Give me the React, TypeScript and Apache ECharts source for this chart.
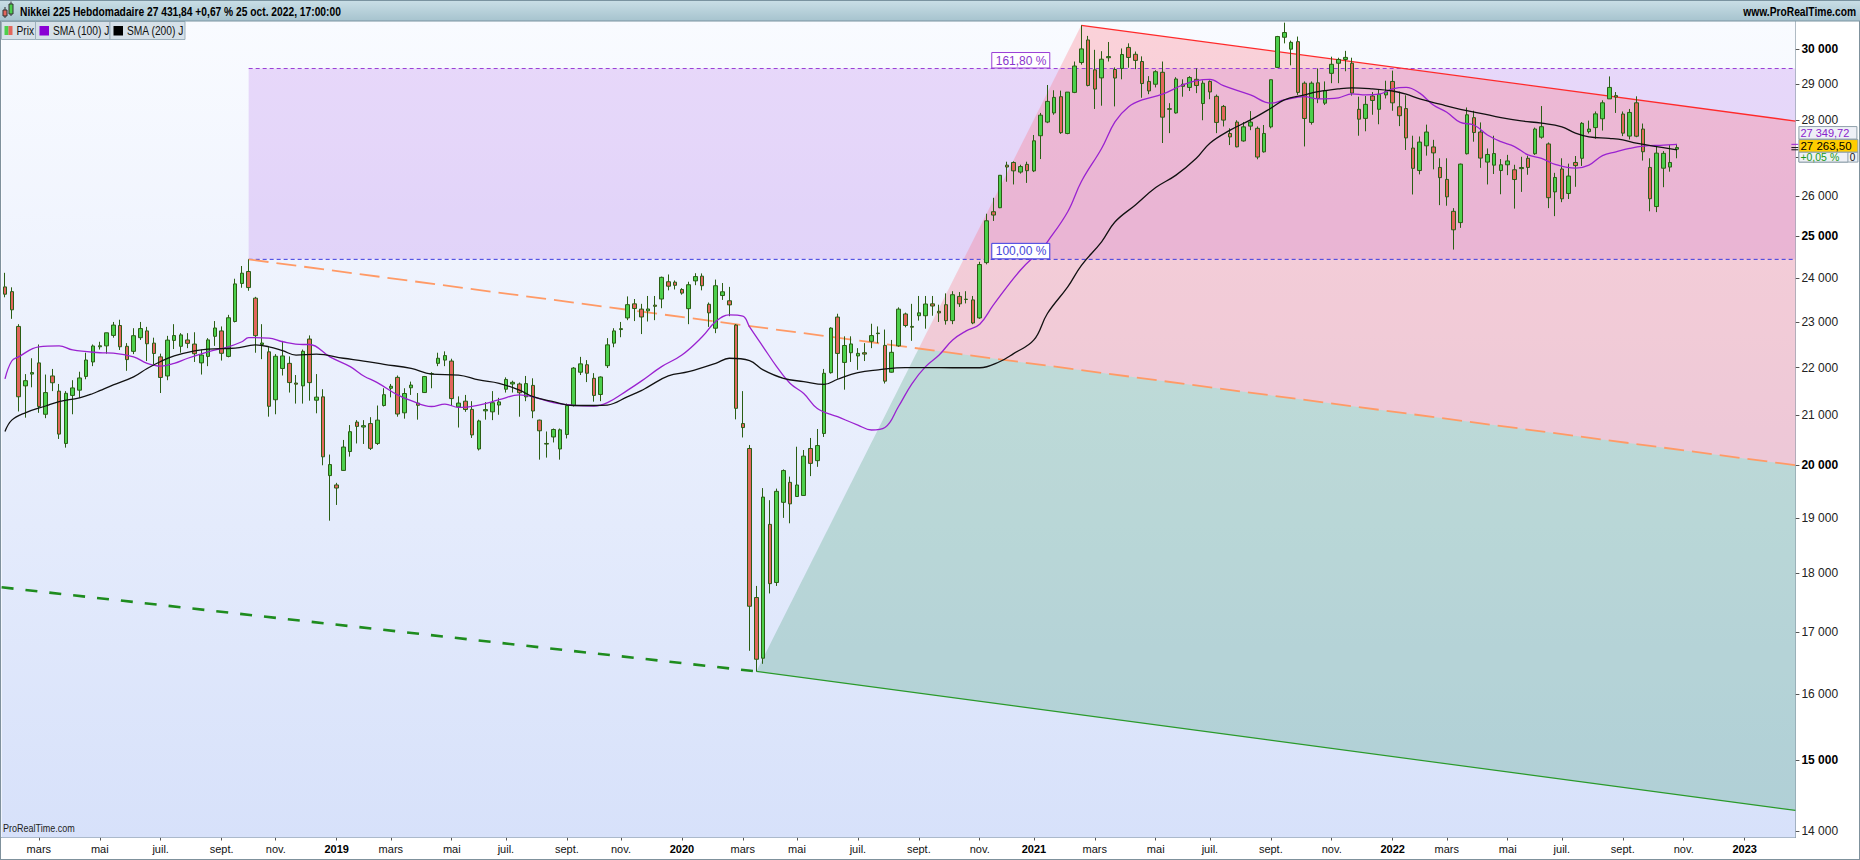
import React, { useEffect, useRef } from "react";
import * as echarts from "echarts";

// ---------------- data ----------------
const firstWeek = "2018-01-22";
const skippedWeeks = ["2019-04-29"]; // Golden Week 2019: no trading
const slotCount = 265;

const opens = [
  23800,23690,22900,21610,21860,22100,21020,21820,21500,20430,
  21410,21520,21810,22120,22450,22470,22700,22920,22460,22350,
  22650,22800,22530,22230,21820,22590,22460,22600,22510,22100,
  22240,22680,22800,22240,23010,23880,24160,23540,22500,22340,
  21320,21980,22090,21670,21610,22620,21310,21380,19800,19620,
  19900,20270,20860,20760,20830,20430,21200,21560,21790,21050,
  21570,21250,21470,21870,22090,22160,22140,21170,21290,21120,
  20320,21090,21070,21210,21540,21650,21650,21380,21620,20900,
  20430,20560,20320,20610,21200,21900,22060,21770,21430,22040,
  22530,22830,23090,23410,23290,23250,23380,23520,23920,23910,
  23740,23300,23940,24050,23400,22860,23600,23480,22930,20830,
  20330,17580,16570,18880,17840,19290,19670,19400,19420,20330,
  20090,20630,21890,23110,22110,22320,22250,22320,22570,22740,
  22480,21900,22470,23180,22900,23140,23140,23410,23240,23390,
  23030,23580,23510,23500,23090,24370,25610,25710,26800,26870,
  26620,26820,26650,27580,27950,28200,28650,27640,28770,29620,
  30280,29410,29180,29760,29420,29450,30060,29860,29650,29080,
  29000,29340,28300,28200,29000,28910,29140,28460,29080,28660,
  28380,27640,27950,27440,27840,27780,27150,27820,29480,30360,
  30010,30230,29030,27940,29040,28470,29310,29600,29710,29600,
  28300,28050,28670,28300,28700,29080,28370,28320,27250,26660,
  27310,27280,26740,26430,25620,25340,27100,28070,27680,26880,
  26800,26660,26810,26680,26710,26980,27100,27540,27360,26110,
  26700,26070,26870,26980,27690,27800,28040,28590,28680,28170,
  27570,28480,27760,26740,25740,26720,26750,27220,
];
const highs = [
  24129,23790,22950,21860,22200,22500,21850,21970,21650,21500,
  21730,21910,22320,22500,22560,22760,23000,23050,22530,22860,
  23000,22890,22650,22300,22690,22950,22750,22750,22770,22390,
  22640,23020,22900,23160,23990,24290,24448,23570,22950,22440,
  22290,22580,22240,21840,22390,22700,21860,21540,20210,19660,
  20500,20800,20900,20900,20960,21200,21560,21650,21830,21560,
  21700,21460,21820,21900,22320,22350,22190,21390,21420,21290,
  20910,21270,21500,21360,21790,21720,21680,21820,21770,20910,
  20670,20730,20730,21240,22010,22230,22160,21880,21810,22640,
  22860,23000,23580,23520,23410,23590,23590,24040,24090,23950,
  23770,23920,24120,24115,23440,23970,23890,23800,22950,21500,
  20400,17780,19560,19330,19550,19920,19780,20365,20300,20540,
  20720,21970,22880,23185,22680,22680,22420,22530,22960,22900,
  22830,22600,23330,23210,23410,23590,23590,23590,23390,23650,
  23700,23680,23700,23590,24390,25560,25960,26540,26890,26900,
  26810,26890,27600,28200,28979,28830,28820,28780,29650,30714,
  30400,29990,29950,30220,29480,30030,30180,29940,29800,29230,
  29400,29650,28470,29200,29140,29230,29450,29110,29110,28710,
  28420,27780,28000,27950,28250,27830,27870,29130,30400,30795,
  30260,30380,29080,29080,29450,29080,29790,29760,29960,29760,
  28650,28670,28780,28850,29100,29388,28790,28690,27580,27560,
  27880,27470,26980,26980,25700,26840,28350,28260,27940,27240,
  27580,26960,27070,26810,27020,27050,27800,28390,27400,26600,
  26980,26840,27040,27950,27990,28240,28550,29222,28780,28240,
  28310,28660,27910,26980,27290,27170,27330,27360,
];
const lows = [
  23560,23070,21078,20950,21580,21050,20940,21500,20520,20347,
  21020,21360,21750,22030,22390,22300,22650,22380,21930,22290,
  22600,22140,22070,21460,21730,22400,22320,22420,22120,21850,
  22030,22470,22150,22220,22990,23780,23710,22320,22180,20971,
  21020,21830,21470,21240,21240,21300,21040,20000,18948,19241,
  19890,20170,20430,20420,20300,20400,21180,21370,20970,20930,
  21420,20910,21460,21560,22030,22030,21190,20750,21070,20540,
  20290,20910,20900,21010,21470,21470,20970,21290,20940,20110,
  20150,20450,20110,20530,21180,21840,21690,21280,21290,21990,
  22440,22660,23040,23020,22730,23010,23040,23310,23720,23740,
  23620,22950,23840,23720,22890,22750,23500,23130,20916,20550,
  16690,16358,16480,17650,17780,19000,18900,19400,19410,19790,
  19970,20560,21870,21760,21530,22120,21950,22140,22420,22530,
  21660,21890,22450,22880,22580,23030,22850,23140,23000,22940,
  22950,23340,23420,22950,23070,24330,25380,25700,26370,26300,
  26580,26340,26620,26960,27920,28150,27630,27620,28750,29560,
  28940,28310,28400,29650,28380,29140,29470,29430,28620,28720,
  28910,27385,27650,28180,28650,28810,28750,28000,28580,27650,
  27830,27330,27270,27420,27730,26954,27130,27780,29470,30180,
  29540,28700,27293,27880,28470,28420,29030,29030,29370,28680,
  27580,27700,28150,27890,28600,28260,27840,27200,26044,26560,
  27050,26690,25775,25760,24682,25210,27080,27420,26730,26300,
  26570,26050,26540,25688,26110,26550,27070,27500,25700,25500,
  25850,25930,26240,26780,27640,27500,27720,28590,28200,27570,
  27480,27540,26920,25621,25600,26230,26630,26980,
];
const closes = [
  23631,23274,21382,21720,21892,21181,21469,21676,20617,21454,
  21567,21778,22162,22467,22472,22758,22930,22450,22171,22694,
  22852,22516,22304,21788,22597,22697,22712,22525,22298,22270,
  22601,22865,22307,23094,23870,24120,23784,22694,22532,21184,
  22243,22250,21680,21646,22351,21679,21374,20166,20014,19561,
  20359,20666,20773,20788,20333,20900,21425,21602,21025,21450,
  21627,21205,21807,21870,22200,22258,21344,21250,21117,20601,
  20884,21116,21258,21275,21746,21685,21466,21658,21087,20684,
  20418,20710,20704,21199,21988,22079,21878,21410,21798,22492,
  22800,22850,23391,23303,23112,23293,23354,24023,23816,23837,
  23656,23850,24041,23827,23205,23827,23687,23386,21142,20749,
  17431,16553,19389,17820,19498,19897,19262,19619,20179,20037,
  20388,21877,22863,22305,22478,22512,22306,22290,22696,22751,
  21710,22329,23289,22920,22882,23205,23406,23360,23204,23029,
  23619,23410,23516,22977,24325,25385,25527,26537,26751,26652,
  26763,26656,27444,28139,28519,28631,27663,28779,29520,30017,
  28966,28864,29717,29792,29176,29854,29768,29683,29020,28812,
  29357,28084,28317,29149,28941,29190,28964,29030,28783,27940,
  28003,27548,27283,27820,27950,27013,27641,29128,30381,30500,
  30210,28771,28048,29030,28600,28820,29570,29710,29770,28751,
  28029,28437,28545,28720,28790,28479,28124,27522,26717,27410,
  27680,27122,26476,25985,25163,26827,28149,27666,26985,27080,
  27105,26810,26910,26427,26739,26740,27761,27824,25963,26480,
  25935,26517,26788,27915,27760,28175,28480,28910,28641,27650,
  28214,27567,27153,25937,27116,27110,26870,27263.5,
];

// SMA curves: [week index, value]
const sma100 = [
  [0,21760],[1,22140],[2,22230],[5,22450],[8,22470],[10,22380],[14,22320],[16,22310],[19,22230],[21,22090],
  [23,22030],[25,22090],[27,22200],[30,22340],[33,22450],[35,22560],[36,22650],[39,22640],[41,22560],[44,22500],
  [45,22500],[48,22230],[51,22020],[53,21820],[55,21680],[58,21420],[60,21300],[63,21180],[65,21230],[67,21160],
  [70,21210],[73,21320],[76,21420],[78,21380],[81,21260],[84,21205],[87,21190],[89,21260],[92,21520],[94,21710],
  [97,22020],[100,22270],[103,22670],[105,23010],[107,23160],[109,23130],[110,22890],[112,22450],[114,22020],[116,21660],
  [118,21450],[120,21140],[123,20970],[126,20800],[128,20700],[130,20750],[132,21180],[134,21660],[136,22020],[138,22270],
  [140,22600],[142,22800],[144,22950],[146,23380],[150,24190],[153,24670],[154,24870],[157,25610],[159,26370],[162,27240],
  [164,27960],[166,28370],[168,28560],[171,28720],[174,28980],[176,29100],[178,29140],[180,28960],[184,28700],[187,28470],
  [189,28560],[192,28650],[194,28590],[197,28620],[199,28730],[201,28700],[203,28720],[205,28870],[207,28910],[209,28750],
  [211,28420],[213,28220],[215,27940],[217,27870],[219,27600],[221,27420],[223,27290],[225,27070],[227,26980],[229,26820],
  [232,26720],[234,26800],[236,27050],[238,27150],[240,27240],[242,27300],[245,27330],[247,27350],
];
const sma200 = [
  [0,20670],[1,20900],[3,21050],[6,21190],[8,21280],[11,21360],[13,21450],[14,21510],[16,21630],[19,21800],
  [21,21980],[23,22130],[25,22250],[28,22360],[30,22400],[34,22420],[37,22490],[39,22450],[41,22365],[43,22270],
  [46,22290],[50,22200],[53,22140],[56,22070],[60,21980],[63,21860],[67,21840],[70,21735],[73,21665],[76,21520],
  [78,21385],[81,21280],[84,21200],[87,21200],[89,21210],[92,21385],[94,21510],[95,21590],[98,21820],[101,21910],
  [105,22090],[107,22200],[110,22150],[112,21950],[115,21770],[118,21700],[121,21640],[123,21750],[126,21890],[129,21950],
  [133,22000],[136,22000],[140,21995],[144,21995],[147,22130],[149,22300],[152,22600],[154,23190],[157,23800],[159,24300],
  [162,24870],[164,25360],[167,25780],[170,26220],[173,26540],[176,26980],[178,27380],[181,27730],[184,28010],[187,28330],
  [189,28560],[192,28700],[194,28790],[197,28870],[199,28900],[202,28870],[205,28810],[207,28720],[209,28590],[212,28440],
  [215,28300],[218,28190],[221,28070],[224,27980],[227,27920],[230,27820],[232,27650],[234,27550],[237,27510],[239,27470],
  [241,27380],[244,27290],[247,27200],
];

const priceTicks = [14000,15000,16000,17000,18000,19000,20000,21000,22000,23000,24000,25000,26000,27000,28000,29000,30000];
const boldTicks = [15000, 20000, 25000, 30000];
const monthNames = ["janv.","févr.","mars","avr.","mai","juin","juil.","août","sept.","oct.","nov.","déc."];

// drawing-tool anchors: [week index, price]
const fibBase = [36, 24448];
const fibExtPrice = 29448;
const orangeEnd = [264, 20010];
const covidLow = [111, 16358];
const peak2021 = [159, 30714];
const redEnd = [264, 27990];
const greenEnd = [264, 14290];
const greenDashStart = [0, 17750];
const fibLabelWeek = 146;

const lastSma100 = 27349.72;
const lastSma200 = 27204.6;
const lastPrice = 27263.5;
const lastChangeText = "+0,05 %";
const title = "Nikkei 225 Hebdomadaire 27 431,84 +0,67 % 25 oct. 2022, 17:00:00";

// ---------------- helpers ----------------
function buildWeeks(): string[] {
  const res: string[] = [];
  const t0 = Date.parse(firstWeek + "T00:00:00Z");
  let k = 0;
  while (res.length < slotCount) {
    const iso = new Date(t0 + k * 7 * 86400000).toISOString().slice(0, 10);
    if (!skippedWeeks.includes(iso)) res.push(iso);
    k++;
  }
  return res;
}

function fontAvailable(name: string): boolean {
  try {
    const ctx = document.createElement("canvas").getContext("2d");
    if (!ctx) return false;
    const s = "abcdefghijklmnopqrstuvwxyz0123456789 MWQ";
    ctx.font = "40px monospace";
    const a = ctx.measureText(s).width;
    ctx.font = `40px "${name}", monospace`;
    const b = ctx.measureText(s).width;
    ctx.font = "40px serif";
    const c = ctx.measureText(s).width;
    ctx.font = `40px "${name}", serif`;
    const d = ctx.measureText(s).width;
    return a !== b || c !== d;
  } catch (e) {
    return false;
  }
}

const yAt = (a: number[], b: number[], x: number) => a[1] + ((b[1] - a[1]) * (x - a[0])) / (b[0] - a[0]);
function intersect(p1: number[], p2: number[], p3: number[], p4: number[]) {
  const d = (p1[0] - p2[0]) * (p3[1] - p4[1]) - (p1[1] - p2[1]) * (p3[0] - p4[0]);
  const a = p1[0] * p2[1] - p1[1] * p2[0];
  const b = p3[0] * p4[1] - p3[1] * p4[0];
  return [(a * (p3[0] - p4[0]) - (p1[0] - p2[0]) * b) / d, (a * (p3[1] - p4[1]) - (p1[1] - p2[1]) * b) / d];
}
const group3 = (s: string) => s.replace(/\B(?=(\d{3})+(?!\d))/g, " ");
const fmtNum = (v: number) => group3(String(Math.round(v)));
const fmtDec = (v: number) => {
  const [i, d] = v.toFixed(2).split(".");
  return group3(i) + "," + d;
};

export default function App() {
  const ref = useRef<HTMLDivElement>(null);

  useEffect(() => {
    document.body.style.margin = "0";
    const el = ref.current;
    if (!el) return;
    const chart = echarts.init(el, null, { renderer: "svg" });

    const hasNarrow = fontAvailable("Liberation Sans Narrow");
    const NARROW = hasNarrow ? '"Liberation Sans Narrow", "Liberation Sans", Arial, sans-serif' : '"Liberation Sans", Arial, sans-serif';
    const narrowScale = hasNarrow ? 1 : 0.82;
    const SANS = '"Liberation Sans", Arial, sans-serif';

    const weeks = buildWeeks();
    const labelMap: Record<string, string> = {};
    let prevM = -1;
    weeks.forEach((iso, i) => {
      const fri = new Date(Date.parse(iso + "T00:00:00Z") + 4 * 86400000);
      const m = fri.getUTCMonth();
      if (i > 0 && m !== prevM && m % 2 === 0) {
        labelMap[iso] = m === 0 ? `{y|${fri.getUTCFullYear()}}` : `{m|${monthNames[m]}}`;
      }
      prevM = m;
    });

    const candleData = opens.map((o, i) => [o, closes[i], lows[i], highs[i]]);

    const bgGradient = new echarts.graphic.LinearGradient(0, 0, 0, 1, [
      { offset: 0, color: "#f9fbff" },
      { offset: 1, color: "#d7e1fa" },
    ]);
    const headerGradient = new echarts.graphic.LinearGradient(0, 0, 0, 1, [
      { offset: 0, color: "#cadfe7" },
      { offset: 1, color: "#a6c3ce" },
    ]);

    const narrowText = (text: string, x: number, y: number, size: number, weight: string, fill: string, align = "left") => ({
      type: "text",
      x,
      y,
      scaleX: narrowScale,
      style: { text, x: 0, y: 0, fontSize: size, fontWeight: weight, fontFamily: NARROW, fill, align, verticalAlign: "middle" },
      z: 20,
    });

    const option: any = {
      animation: false,
      backgroundColor: "#ffffff",
      grid: { left: 1.6, right: 64.6, top: 21, bottom: 22.5, containLabel: false },
      xAxis: {
        type: "category",
        data: weeks,
        boundaryGap: true,
        axisLine: { show: true, lineStyle: { color: "#7f919c", width: 1 } },
        axisTick: {
          show: true,
          alignWithLabel: true,
          interval: (_i: number, v: string) => !!labelMap[v],
          length: 3,
          lineStyle: { color: "#555" },
        },
        axisLabel: {
          interval: (_i: number, v: string) => !!labelMap[v],
          formatter: (v: string) => labelMap[v] || "",
          margin: 6,
          rich: {
            m: { fontSize: hasNarrow ? 12 : 11, fontFamily: NARROW, color: "#111" },
            y: { fontSize: hasNarrow ? 12 : 11, fontFamily: NARROW, fontWeight: "bold", color: "#000" },
          },
        },
        splitLine: { show: false },
      },
      yAxis: {
        type: "log",
        logBase: 10,
        position: "right",
        min: 13912,
        max: 30845,
        axisLine: { show: true, lineStyle: { color: "#7f919c" } },
        axisTick: { show: true, length: 4, customValues: priceTicks, lineStyle: { color: "#555" } },
        axisLabel: {
          customValues: priceTicks,
          margin: 6,
          formatter: (v: number) => {
            const r = Math.round(v);
            return boldTicks.includes(r) ? `{b|${fmtNum(r)}}` : `{n|${fmtNum(r)}}`;
          },
          rich: {
            b: { fontSize: 12, fontWeight: "bold", fontFamily: SANS, color: "#000" },
            n: { fontSize: 12, fontFamily: SANS, color: "#222" },
          },
        },
        minorTick: { show: false },
        splitLine: { show: false },
      },
      series: [
        {
          type: "custom",
          name: "zones",
          z: 1,
          silent: true,
          data: [[0, 20000]],
          renderItem: (params: any, api: any) => {
            const cs = params.coordSys;
            const xL = cs.x;
            const xR = cs.x + cs.width;
            const P = (a: number[]) => api.coord([a[0], a[1]]);
            const base = P(fibBase);
            const ext = P([fibBase[0], fibExtPrice]);
            const o2 = P(orangeEnd);
            const lo = P(covidLow);
            const hi = P(peak2021);
            const r2 = P(redEnd);
            const g2 = P(greenEnd);
            const gd = P(greenDashStart);
            const oR = [xR, yAt(base, o2, xR)];
            const rR = [xR, yAt(hi, r2, xR)];
            const gR = [xR, yAt(lo, g2, xR)];
            const gL = [xL, yAt(gd, lo, xL)];
            const X = intersect(lo, hi, base, o2);
            return {
              type: "group",
              children: [
                { type: "rect", shape: { x: cs.x, y: cs.y, width: cs.width, height: cs.height }, style: { fill: bgGradient } },
                {
                  type: "rect",
                  shape: { x: base[0], y: ext[1], width: xR - base[0], height: base[1] - ext[1] },
                  style: { fill: "rgba(185,115,235,0.25)" },
                },
                { type: "polygon", shape: { points: [X, hi, rR, oR] }, style: { fill: "rgba(255,100,115,0.27)" } },
                { type: "polygon", shape: { points: [lo, X, oR, gR] }, style: { fill: "rgba(50,150,100,0.24)" } },
                {
                  type: "line",
                  shape: { x1: base[0], y1: ext[1], x2: xR, y2: ext[1] },
                  style: { stroke: "#9a3fd6", lineWidth: 1, lineDash: [4, 3] },
                },
                {
                  type: "line",
                  shape: { x1: base[0], y1: base[1], x2: xR, y2: base[1] },
                  style: { stroke: "#3a3ae0", lineWidth: 1, lineDash: [4, 3] },
                },
                {
                  type: "line",
                  shape: { x1: base[0], y1: base[1], x2: oR[0], y2: oR[1] },
                  style: { stroke: "#ff9a66", lineWidth: 1.8, lineDash: [20, 8] },
                },
                {
                  type: "line",
                  shape: { x1: hi[0], y1: hi[1], x2: rR[0], y2: rR[1] },
                  style: { stroke: "#ff2a2a", lineWidth: 1.3 },
                },
                {
                  type: "line",
                  shape: { x1: lo[0], y1: lo[1], x2: gR[0], y2: gR[1] },
                  style: { stroke: "#2a9a2a", lineWidth: 1.2 },
                },
                {
                  type: "line",
                  shape: { x1: gL[0], y1: gL[1], x2: lo[0], y2: lo[1] },
                  style: { stroke: "#1e8c1e", lineWidth: 2.6, lineDash: [12, 12] },
                },
              ],
            };
          },
        },
        {
          type: "candlestick",
          name: "Prix",
          z: 3,
          barWidth: 4,
          data: candleData,
          itemStyle: {
            color: "#4ccf4c",
            color0: "#e2665c",
            borderColor: "#2a5e14",
            borderColor0: "#2a5e14",
            borderWidth: 1,
          },
        },
        {
          type: "line",
          name: "SMA (100) J",
          z: 4,
          data: sma100,
          symbol: "none",
          smooth: 0.4,
          lineStyle: { color: "#9a22d0", width: 1.3 },
        },
        {
          type: "line",
          name: "SMA (200) J",
          z: 4,
          data: sma200,
          symbol: "none",
          smooth: 0.4,
          lineStyle: { color: "#111111", width: 1.3 },
        },
        {
          type: "custom",
          name: "labels",
          z: 10,
          silent: true,
          data: [[0, 20000]],
          renderItem: (params: any, api: any) => {
            const cs = params.coordSys;
            const xR = cs.x + cs.width;
            const lx = api.coord([fibLabelWeek, fibExtPrice])[0] - 1.5;
            const yExt = api.coord([fibLabelWeek, fibExtPrice])[1];
            const yBase = api.coord([fibLabelWeek, fibBase[1]])[1];
            const yP = api.coord([0, lastPrice])[1];
            const y100 = api.coord([0, lastSma100])[1];
            const y200 = api.coord([0, lastSma200])[1];
            const tx = xR + 5;
            const box = (x: number, y: number, w: number, h: number, fill: string, stroke: string) => ({
              type: "rect",
              shape: { x, y, width: w, height: h },
              style: { fill, stroke, lineWidth: 1 },
            });
            const txt = (text: string, x: number, y: number, fill: string, size: number, align = "left") => ({
              type: "text",
              style: { text, x, y, fill, fontSize: size, fontFamily: SANS, align, verticalAlign: "middle" },
            });
            const yc = yP - 2;
            return {
              type: "group",
              children: [
                box(lx, yExt - 16, 58, 15.5, "#ffffff", "#9a3fd6"),
                txt("161,80 %", lx + 4, yExt - 8, "#8a35cc", 12),
                box(lx, yBase - 16, 58, 15.5, "#ffffff", "#3a3ae0"),
                txt("100,00 %", lx + 4, yBase - 8, "#4646d8", 12),
                // right-hand price tags
                { type: "line", shape: { x1: xR - 4, y1: y100, x2: xR + 3, y2: y100 }, style: { stroke: "#9a22d0", lineWidth: 1 } },
                { type: "line", shape: { x1: xR - 4, y1: y200, x2: xR + 3, y2: y200 }, style: { stroke: "#111", lineWidth: 1 } },
                { type: "line", shape: { x1: xR - 4, y1: yP, x2: xR + 3, y2: yP }, style: { stroke: "#111", lineWidth: 1 } },
                box(xR + 3.5, yc - 19, 58, 12.5, "#eef0f6", "#8fa0ab"),
                txt(fmtDec(lastSma100), tx, yc - 12.8, "#8a22cc", 11),
                box(xR + 3.5, yc + 6.5, 59, 10, "#eef0f6", "#8fa0ab"),
                txt("0", xR + 60, yc + 11.8, "#111", 10, "right"),
                box(xR + 3.5, yc + 6.5, 49, 10, "#eef0f6", "#8fa0ab"),
                txt(lastChangeText, tx, yc + 11.8, "#1a9a1a", 10.5),
                box(xR + 3.5, yc - 6, 59, 12.5, "#ffcc00", "#8fa0ab"),
                txt(fmtDec(lastPrice), tx, yc + 0.3, "#000", 11.5),
              ],
            };
          },
        },
      ],
      graphic: [
        // header
        { type: "rect", shape: { x: 0, y: 0, width: 1860, height: 21 }, style: { fill: headerGradient }, z: 19 },
        { type: "line", shape: { x1: 0, y1: 0.5, x2: 1860, y2: 0.5 }, style: { stroke: "#7a93a0", lineWidth: 1 }, z: 20 },
        { type: "line", shape: { x1: 0, y1: 21, x2: 1860, y2: 21 }, style: { stroke: "#7a93a0", lineWidth: 1 }, z: 20 },
        { type: "line", shape: { x1: 5, y1: 7, x2: 5, y2: 18 }, style: { stroke: "#333", lineWidth: 1 }, z: 20 },
        { type: "rect", shape: { x: 3, y: 10, width: 4, height: 6 }, style: { fill: "#e2665c", stroke: "#333", lineWidth: 1 }, z: 21 },
        { type: "line", shape: { x1: 11, y1: 1.5, x2: 11, y2: 16 }, style: { stroke: "#333", lineWidth: 1 }, z: 20 },
        { type: "rect", shape: { x: 9, y: 4, width: 4, height: 10 }, style: { fill: "#4ccf4c", stroke: "#333", lineWidth: 1 }, z: 21 },
        narrowText(title, 20, 11.5, 12.5, "bold", "#000"),
        narrowText("www.ProRealTime.com", 1856, 11.5, 12.5, "bold", "#000", "right"),
        // legend boxes
        { type: "rect", shape: { x: 1.5, y: 21.5, width: 34, height: 18 }, style: { fill: "#d6e0e8", stroke: "#9db0bc", lineWidth: 1 }, z: 19 },
        { type: "rect", shape: { x: 4.5, y: 26, width: 4, height: 9 }, style: { fill: "#4ccf4c" }, z: 20 },
        { type: "rect", shape: { x: 8.5, y: 26, width: 4, height: 9 }, style: { fill: "#e2665c" }, z: 20 },
        narrowText("Prix", 16.5, 31, 12.5, "normal", "#111"),
        { type: "rect", shape: { x: 35.5, y: 21.5, width: 74.5, height: 18 }, style: { fill: "#d6e0e8", stroke: "#9db0bc", lineWidth: 1 }, z: 19 },
        { type: "rect", shape: { x: 39.5, y: 26, width: 9.5, height: 9.5 }, style: { fill: "#8a00d4" }, z: 20 },
        narrowText("SMA (100) J", 53, 31, 12.5, "normal", "#111"),
        { type: "rect", shape: { x: 110, y: 21.5, width: 75, height: 18 }, style: { fill: "#d6e0e8", stroke: "#9db0bc", lineWidth: 1 }, z: 19 },
        { type: "rect", shape: { x: 113.5, y: 26, width: 9.5, height: 9.5 }, style: { fill: "#000" }, z: 20 },
        narrowText("SMA (200) J", 127, 31, 12.5, "normal", "#111"),
        // watermark + frame
        narrowText("ProRealTime.com", 3, 828, 11, "normal", "#222"),
        { type: "line", shape: { x1: 0.5, y1: 21, x2: 0.5, y2: 860 }, style: { stroke: "#7f919c", lineWidth: 1 }, z: 20 },
        { type: "line", shape: { x1: 1859.5, y1: 21, x2: 1859.5, y2: 860 }, style: { stroke: "#7f919c", lineWidth: 1 }, z: 20 },
        { type: "line", shape: { x1: 0, y1: 859.5, x2: 1860, y2: 859.5 }, style: { stroke: "#7f919c", lineWidth: 1 }, z: 20 },
      ],
    };

    chart.setOption(option);
    return () => chart.dispose();
  }, []);

  return <div ref={ref} style={{ width: 1860, height: 860, background: "#fff" }} />;
}
